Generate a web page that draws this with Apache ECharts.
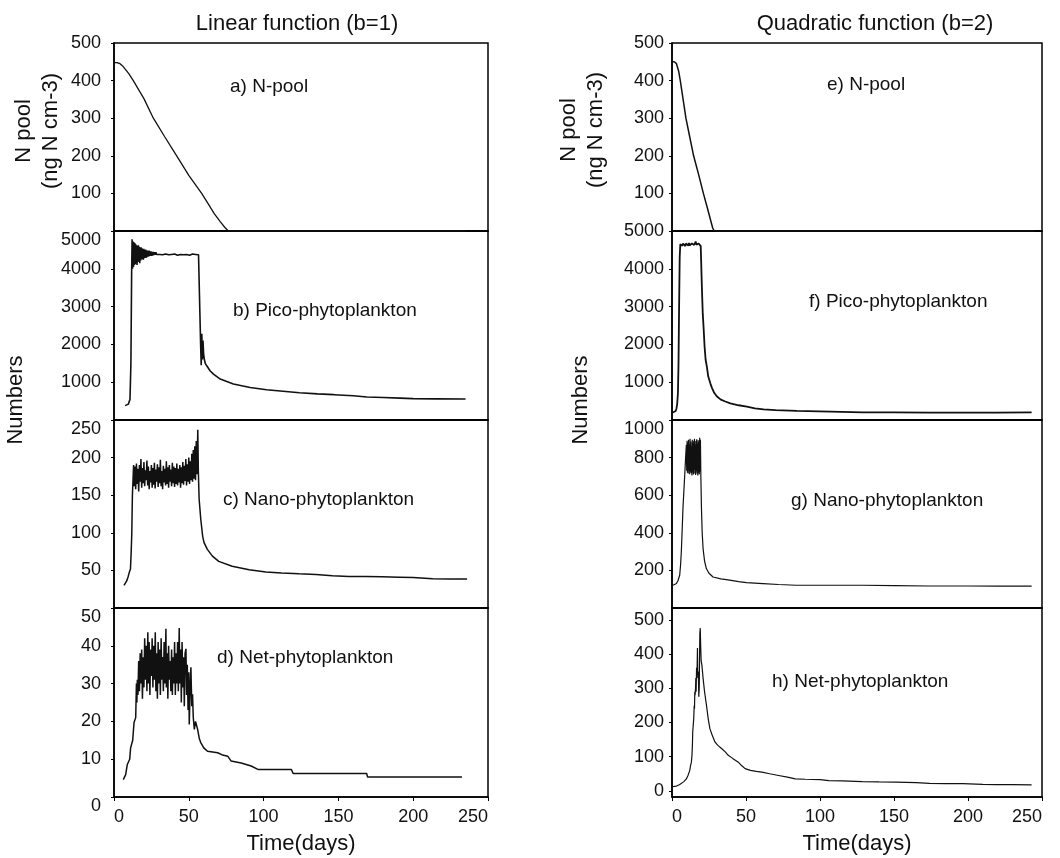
<!DOCTYPE html>
<html><head><meta charset="utf-8">
<script src="https://cdn.jsdelivr.net/npm/echarts@6/dist/echarts.min.js"></script>
<style>html,body{margin:0;padding:0;background:#fff}#c{width:1060px;height:858px}</style>
</head><body><div id="c"></div>
<script>
// ---------- data (day, value) ----------
const nPoolLinear = [[0,448],[2,448],[4,445],[6,438],[8,428],[10,418],[12.9,400],[20,352],[26.3,300],[34,250],[41.9,200],[50,148],[58.6,100],[63,72],[67,46],[71,25],[74,10],[76.4,0],[235,0]];

const picoLinear = [[7.4,380],[8.5,400],[9.6,420],[10.7,550],[11.3,1500],[11.8,3950],
[12.1,4780],[12.4,4000],[12.7,4720],[13.0,4050],[13.3,4700],[13.6,4100],[13.9,4680],[14.2,4120],[14.5,4650],[14.8,4150],[15.1,4620],[15.4,4100],[15.7,4600],[16.0,4180],[16.3,4620],[16.6,4200],[16.9,4580],[17.2,4150],[17.5,4560],[17.8,4220],[18.1,4570],[18.4,4250],[18.7,4540],[19.0,4260],[19.3,4520],[19.6,4240],[19.9,4530],[20.2,4280],[20.5,4500],[20.8,4300],[21.1,4510],[21.4,4290],[21.7,4490],[22.0,4310],[22.3,4480],[22.6,4320],[22.9,4470],[23.2,4330],[23.5,4480],[23.8,4340],[24.1,4460],[24.4,4350],[24.7,4460],[25.0,4340],[25.4,4450],[25.8,4350],[26.2,4450],[26.6,4360],[27.0,4440],[27.5,4370],[28.0,4440],[28.5,4380],
[29.5,4430],[30.5,4380],[31.5,4420],[32.5,4370],[33.5,4410],[34.5,4390],[35.5,4430],[36.5,4370],[37.5,4410],[38.5,4380],[39.5,4420],[40.5,4390],[41.5,4400],[42.5,4360],[43.5,4410],[44.5,4380],[45.5,4420],[46.5,4370],[47.5,4400],[48.5,4380],[49.5,4420],[50.5,4360],[51.5,4410],[52.5,4390],[53.5,4430],[54.5,4380],[55.5,4420],[56.5,4370],[57.5,4400],
[57.9,2000],[58.3,1450],[58.7,2280],[59.1,1600],[59.5,2100],[59.9,1750],[60.4,1600],[61,1500],[62,1434],[64.2,1302],[66.5,1214],[71,1082],[79.8,950],[91,860],[102,800],[113,760],[124,720],[136,690],[147,670],[160,640],[169,610],[180,595],[191,580],[200,565],[215,560],[235,555]];

const nanoLinear = [[6.7,30],[7.5,32],[8.5,36],[9.5,42],[10.3,48],[11.0,52],[11.5,75],[11.9,100],[12.3,150],[12.7,170],[13.1,190],
[13.5,162],[14,188],[14.5,158],[15,192],[15.5,165],[16,185],[16.5,155],[17,190],[17.5,168],[18,198],[18.5,160],[19,186],[19.5,166],[20,194],[20.5,162],[21,183],[21.5,170],[22,196],[22.5,163],[23,188],[23.5,158],[24,182],[24.5,167],[25,190],[25.5,160],[26,186],[26.5,164],[27,193],[27.5,159],[28,184],[28.5,168],[29,191],[29.5,161],[30,187],[30.5,166],[31,197],[31.5,162],[32,182],[32.5,158],[33,189],[33.5,167],[34,185],[34.5,163],[35,195],[35.5,165],[36,187],[36.5,160],[37,190],[37.5,168],[38,184],[38.5,162],[39,193],[39.5,166],[40,188],[40.5,161],[41,186],[41.5,165],[42,192],[42.5,163],[43,185],[43.5,167],[44,190],[44.5,160],[45,187],[45.5,166],[46,194],[46.5,164],[47,189],[47.5,169],[48,198],[48.5,163],[49,191],[49.5,168],[50,200],[50.5,165],[51,195],[51.5,170],[52,205],[52.5,168],[53,210],[53.5,172],[54,215],[54.5,170],[55,222],[55.5,178],[56,237],[56.4,180],[56.9,145],
[58,118],[59.3,95],[60.2,87],[62.4,78],[65.8,69],[70,62],[79,55.6],[90.3,51],[101.5,48],[112,46.7],[123.7,45.4],[135,44.5],[146,43],[157,42],[168,41.8],[179,41.4],[190.6,41],[200,40.5],[213,39],[224,38.7],[236,38.7]];

const netLinear = [[6.2,4.6],[7.5,4.6],[7.8,5.9],[8.5,5.9],[8.9,8.6],[10,8.6],[10.5,10],[11.1,13],[12,13],[12.5,15],[13.4,19.7],[14,19.7],[14.5,21],[15,30],[15.3,25],[15.6,31],
[16,27],[16.5,36],[17,28],[17.5,38],[18,30],[18.5,39],[19,26],[19.5,37],[20,29],[20.5,42],[21,31],[21.5,40],[22,28],[22.6,43.6],[23,30],[23.5,41],[24,27],[24.5,39],[25,32],[25.5,42],[26,29],[26.5,40],[27,31],[27.6,43.6],[28,28],[28.5,38],[29,26],[29.5,41],[30,30],[30.5,39],[31,27],[31.5,42],[32,31],[32.5,37],[33,28],[33.5,41],[34,30],[34.7,44.5],[35,29],[35.5,38],[36,26],[36.5,40],[37,31],[37.5,36],[38,28],[38.5,39],[39,27],[39.5,37],[40,30],[40.5,41],[41,27],[41.5,38],[42,30],[42.5,41],[43,28],[43.6,44.7],[44,30],[44.5,39],[45,25],[45.5,41],[46,29],[46.5,37],[47,24],[47.5,38],[48.1,39.2],[48.5,27],[49,35],[49.5,23],[50,33],[50.3,19.2],[51,30],[51.4,34.3],[52,24],[52.5,27.2],[53,21],[53.7,17.9],
[54.5,20],[55.9,17.9],[57,15.5],[58,14.4],[60,13],[62.5,12.1],[69.3,11.7],[72,11.2],[76,10.8],[78.3,9.5],[85,9],[91.7,8.2],[96.2,7.3],[118.6,7.3],[119.7,6.2],[168.9,6.2],[169.5,5.3],[232.6,5.3]];

const nPoolQuad = [[0,450],[1.5,450],[3,445],[4.5,425],[5.6,400],[7.5,350],[9.4,300],[12,250],[14.6,200],[18,150],[21.2,100],[24,60],[26,30],[27.5,8],[28.5,0],[245,0]];

const picoQuad = [[0.5,200],[1.5,210],[2.5,240],[3,300],[3.5,420],[4,700],[4.4,1500],[4.8,3000],[5.2,4300],[5.6,4650],[6,4620],[6.5,4680],[7,4610],[7.5,4670],[8,4620],[8.5,4660],[9,4600],[9.5,4670],[10,4630],[10.5,4660],[11,4610],[11.5,4680],[12,4620],[12.5,4650],[13,4600],[13.5,4670],[14,4620],[14.5,4660],[15,4630],[15.5,4680],[16,4720],[16.5,4640],[17,4660],[17.5,4620],[18,4670],[18.5,4630],[19,4650],[19.4,4600],[19.7,4200],[20.2,3500],[20.8,2800],[21.4,2400],[22,1950],[22.7,1600],[23.6,1400],[24.5,1150],[25.9,970],[27,850],[28.5,720],[30.4,620],[33,540],[36,490],[39.4,442],[45,390],[50.6,354],[56,310],[61.9,280],[70,260],[84.4,239],[107,221],[129,204],[150,200],[174,195],[200,195],[219,195],[243,200]];

const nanoQuad = [[0.7,121],[2,125],[3,130],[4,145],[5.2,174],[5.8,230],[6.3,299],[6.9,420],[7.4,530],[8,620],[8.6,708],[9.2,800],[9.7,868],
[9.95,730],[10.2,890],[10.45,720],[10.7,880],[10.95,715],[11.2,895],[11.45,730],[11.7,870],[11.95,712],[12.2,900],[12.45,725],[12.7,885],[12.95,718],[13.2,860],[13.45,705],[13.7,895],[13.95,722],[14.2,878],[14.45,710],[14.7,890],[14.95,735],[15.2,900],[15.45,716],[15.7,870],[15.95,708],[16.2,888],[16.45,728],[16.7,898],[16.95,715],[17.2,875],[17.45,705],[17.7,892],[17.95,720],[18.2,884],[18.45,712],[18.7,905],[18.95,725],[19.2,895],
[19.5,700],[19.9,530],[20.4,400],[21,316],[22,250],[23.2,210],[25,185],[27.7,165],[33,155],[39,148],[45,140],[50.3,135],[61.5,130],[72,125],[84,121],[100,121],[129,121],[150,119],[174,117],[200,117],[220,116],[243,116]];

const netQuad = [[0,12],[3,14],[5,18],[6.3,20],[8,27],[9.7,35],[10.8,45],[12,60],[12.6,75],[13.1,84],[13.5,104],[13.8,135],[14.0,172],[14.4,168],[14.7,212],[15.0,250],[15.2,240],[15.4,290],[15.6,280],[15.9,300],[16.1,330],[16.3,290],[16.6,360],[16.9,340],[17.2,418],[17.4,330],[17.7,349],[17.9,320],[18.1,275],[18.4,300],[18.8,460],[19.1,476],[19.4,420],[19.7,380],[20.2,368],[21,330],[22,290],[23.3,250],[24.5,210],[25.6,182],[27,165],[29,143],[31,133],[33.5,124],[36,114],[38,104],[41,95],[44.8,84],[47,74],[49.4,65],[53,60],[57,57],[60.7,55],[66,50],[72,45],[78,40],[83.3,35],[90,34],[100,33],[106,30],[115,29],[128.6,27],[140,26],[151.3,25.5],[165,24],[174,22],[185,21],[196.5,21],[210,19],[219,18],[230,18],[243,17.6]];

// ---------- labels / ticks ----------
const columnTitles = ['Linear function (b=1)', 'Quadratic function (b=2)'];
const panelLabels = ['a) N-pool','b) Pico-phytoplankton','c) Nano-phytoplankton','d) Net-phytoplankton',
                     'e) N-pool','f) Pico-phytoplankton','g) Nano-phytoplankton','h) Net-phytoplankton'];
const xTickInterval = 50, xMin = 0, xMax = 250;
const yMins = [0, 0, 0, 0, 0, 0, 0, -18];
const yMaxs = [500, 5000, 250, 50, 500, 5000, 1000, 535];
const yIntervals = [100, 1000, 50, 10, 100, 1000, 200, null];
const xName = 'Time(days)';
const nPoolName = 'N pool\n(ng N cm-3)';
const numbersName = 'Numbers';

const seriesData = [nPoolLinear, picoLinear, nanoLinear, netLinear, nPoolQuad, picoQuad, nanoQuad, netQuad];

// ---------- layout ----------
const FONT = '"Liberation Sans", Arial, sans-serif';
const INK = '#111';
const cols = [{left:114, width:374, margin:13}, {left:672, width:370, margin:8}];
const rows = [{top:43,height:188},{top:231,height:189},{top:420,height:188},{top:608,height:189}];
const labelPos = [[230,87],[233,311],[223,500],[217,658],[827,85],[809,302],[791,501],[772,682]];
const vTopMax = [false,true,true,true,false,false,true,false];
const lineWidths = [1.3,1.6,1.5,1.5,1.5,1.8,1.2,1.2];

const grids=[], xAxes=[], yAxes=[], series=[];
for (let i=0;i<8;i++){
  const c = cols[Math.floor(i/4)], r = rows[i%4];
  const bottom = (i%4)===3;
  grids.push({left:c.left, top:r.top, width:c.width, height:r.height, show:true,
    borderColor:'#000', borderWidth:1.5, backgroundColor:'transparent', containLabel:false, outerBoundsMode:'none'});
  xAxes.push({type:'value', gridIndex:i, min:xMin, max:xMax, interval:xTickInterval,
    axisLine:{show:true, onZero:false, lineStyle:{color:'#000', width:1.5}},
    axisTick:{show:bottom, length:4, lineStyle:{color:'#000'}},
    axisLabel:{show:bottom, fontSize:18, fontFamily:FONT, color:INK, margin:11, alignMinLabel:'left', alignMaxLabel:'right',
      formatter: v => String(v)},
    splitLine:{show:false},
    name: bottom ? xName : '', nameLocation:'middle', nameGap:36,
    nameTextStyle:{fontSize:22, fontFamily:FONT, color:INK}});
  const yl = {fontSize:18, fontFamily:FONT, color:INK, margin:c.margin, formatter: v => String(v)};
  const ya = {type:'value', gridIndex:i, min:yMins[i], max:yMaxs[i],
    axisLine:{show:true, onZero:false, lineStyle:{color:'#000', width:1.5}},
    axisTick:{show:true, length:3, lineStyle:{color:'#000'}},
    splitLine:{show:false}, axisLabel:yl};
  if (yIntervals[i]) ya.interval = yIntervals[i];
  if (i!==3 && i!==7) yl.showMinLabel = false;
  if (i===3) yl.verticalAlignMinLabel = 'top';
  if (vTopMax[i]) yl.verticalAlignMaxLabel = 'top';
  if (i===7) { yl.showMinLabel=false; yl.showMaxLabel=false;
    yl.formatter = v => (Math.round(v)%100===0 ? String(Math.round(v)) : ''); }
  yAxes.push(ya);
  series.push({type:'line', xAxisIndex:i, yAxisIndex:i, data:seriesData[i], showSymbol:false,
    symbol:'none', lineStyle:{color:INK, width:lineWidths[i]}, animation:false, silent:true});
}

const graphic = [];
[[297,24],[875,24]].forEach((p,k)=>graphic.push({type:'text', x:p[0], y:p[1],
  style:{text:columnTitles[k], font:'22px '+FONT, fill:INK, align:'center', verticalAlign:'middle'}}));
labelPos.forEach((p,k)=>graphic.push({type:'text', x:p[0], y:p[1],
  style:{text:panelLabels[k], font:'19px '+FONT, fill:INK, align:'left', verticalAlign:'middle'}}));
[[37,131],[582,130]].forEach(p=>graphic.push({type:'text', x:p[0], y:p[1], rotation:Math.PI/2,
  style:{text:nPoolName, font:'22px '+FONT, fill:INK, align:'center', verticalAlign:'middle', lineHeight:27}}));
[[16,400],[581,400]].forEach(p=>graphic.push({type:'text', x:p[0], y:p[1], rotation:Math.PI/2,
  style:{text:numbersName, font:'22px '+FONT, fill:INK, align:'center', verticalAlign:'middle'}}));

const chart = echarts.init(document.getElementById('c'), null, {renderer:'canvas'});
chart.setOption({animation:false, backgroundColor:'#fff', grid:grids, xAxis:xAxes, yAxis:yAxes, series:series, graphic:graphic});
</script></body></html>
